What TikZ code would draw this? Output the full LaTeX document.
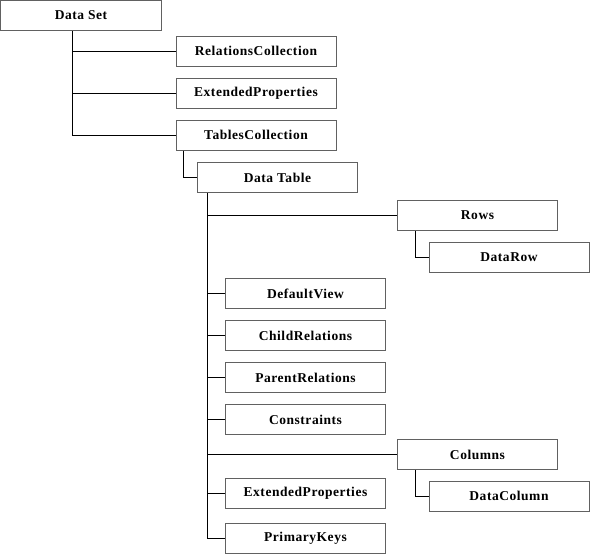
\documentclass[tikz,border=0pt]{standalone}
\usepackage{fontspec}
\setmainfont{Liberation Serif}[LetterSpace=4]
\begin{document}
\begin{tikzpicture}[x=1pt,y=-1pt,
  box/.style={draw=black!62, line width=1pt, fill=white, minimum width=160pt, minimum height=30pt,
    inner sep=0pt, font=\fontsize{13.5}{15}\selectfont\bfseries},
  conn/.style={draw=black, line width=0.9pt}]
\useasboundingbox (0,0) rectangle (590,555);
\node[box, minimum width=161pt] (ds) at (81,15.5) {Data Set};
\node[box] (rc) at (256,51) {RelationsCollection};
\node[box] (ep1) at (256,93) {ExtendedProperties};
\node[box] (tc) at (256,135) {TablesCollection};
\node[box] (dt) at (277.5,177.5) {Data Table};
\node[box] (rows) at (477.5,215.5) {Rows};
\node[box] (drow) at (509,257.5) {DataRow};
\node[box] (dv) at (305.5,293.5) {DefaultView};
\node[box] (cr) at (305.5,335.5) {ChildRelations};
\node[box] (pr) at (305.5,377.5) {ParentRelations};
\node[box] (cons) at (305.5,419.5) {Constraints};
\node[box] (cols) at (477.5,454.5) {Columns};
\node[box] (dcol) at (509,496) {DataColumn};
\node[box] (ep2) at (305.5,493.5) {ExtendedProperties};
\node[box] (pk) at (305.5,538.5) {PrimaryKeys};
\coordinate (t1) at (72,0);
\coordinate (t2) at (183,0);
\coordinate (t3) at (207,0);
\coordinate (t4) at (415,0);
\draw[conn] (ds.south -| t1) |- (rc.west);
\draw[conn] (ds.south -| t1) |- (ep1.west);
\draw[conn] (ds.south -| t1) |- (tc.west);
\draw[conn] (tc.south -| t2) |- (dt.west);
\foreach \c in {rows,dv,cr,pr,cons,cols,ep2,pk}
  \draw[conn] (dt.south -| t3) |- (\c.west);
\draw[conn] (rows.south -| t4) |- (drow.west);
\draw[conn] (cols.south -| t4) |- (dcol.west);
\end{tikzpicture}
\end{document}
